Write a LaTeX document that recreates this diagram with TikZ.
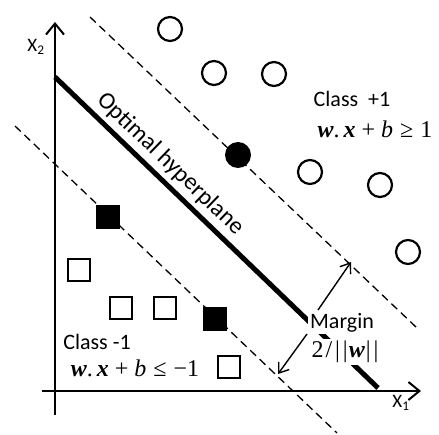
\documentclass[tikz,border=0pt]{standalone}
\usepackage{fontspec}
\setmainfont{Carlito}
\newfontfamily\serifm{Liberation Serif}
\usetikzlibrary{arrows.meta}
\newcommand{\bi}[1]{\textbf{\textit{#1}}}
\newcommand{\wdx}{\bi{w}.\hspace{4pt}\bi{x}\hspace{6pt}+\hspace{6pt}\textit{b}\hspace{7pt}}
\begin{document}
\begin{tikzpicture}[x=1pt,y=-1pt,
  axisline/.style={line width=2pt,-{Straight Barb[length=11pt,width=18pt,line width=2pt]}},
  hyper/.style={line width=5pt},
  marginline/.style={dashed,line width=1.3pt,dash pattern=on 8pt off 5pt},
  arr/.style={line width=1.4pt,-{Straight Barb[length=9pt,width=13pt,line width=1.4pt]}},
  opencirc/.style={circle,draw,line width=2.2pt,minimum size=24pt,inner sep=0pt},
  fillcirc/.style={circle,fill,minimum size=26pt,inner sep=0pt},
  opensq/.style={rectangle,draw,line width=2.2pt,minimum size=22pt,inner sep=0pt},
  fillsq/.style={rectangle,fill,minimum size=24pt,inner sep=0pt},
  lbl/.style={inner sep=0pt,font=\fontsize{22}{26}\selectfont},
  mathlbl/.style={inner sep=0pt,font=\serifm\fontsize{24}{28}\selectfont},
  axlbl/.style={inner sep=0pt,font=\fontsize{19}{22}\selectfont}]
\useasboundingbox (0,0) rectangle (439,435);
% axes
\coordinate (yb) at (55,415);
\coordinate (yt) at (55,22);
\coordinate (xl) at (42,391);
\coordinate (xr) at (421,391);
\draw[axisline] (yb) -- (yt);
\draw[axisline] (xl) -- (xr);
\node[axlbl] (x2) at (36,47) {X\textsubscript{2}};
\node[axlbl] (x1) at (401,403) {X\textsubscript{1}};
% margin lines
\coordinate (u1) at (90,17);
\coordinate (u2) at (417,328);
\coordinate (l1) at (15,126);
\coordinate (l2) at (337,433);
\draw[marginline] (u1) -- (u2);
\draw[marginline] (l1) -- (l2);
% hyperplane
\coordinate (h1) at (55,77);
\coordinate (h2) at (378,388);
\draw[hyper] (h1) -- (h2);
\path (h1) -- (h2) node[pos=0.32,sloped,above=7pt,inner sep=0pt,font=\fontsize{24}{27}\selectfont] (hl) {Optimal hyperplane};
% circles
\node[opencirc] (c1) at (170,29) {};
\node[opencirc] (c2) at (214,73) {};
\node[opencirc] (c3) at (274,74) {};
\node[opencirc] (c4) at (310,172) {};
\node[opencirc] (c5) at (380,185) {};
\node[opencirc] (c6) at (408,252) {};
\node[fillcirc] (c7) at (238,155) {};
% squares
\node[fillsq] (s1) at (108,217) {};
\node[fillsq] (s2) at (215,319) {};
\node[opensq] (s3) at (79,270) {};
\node[opensq] (s4) at (121,308) {};
\node[opensq] (s5) at (165,308) {};
\node[opensq] (s6) at (229,367) {};
% class labels
\node[lbl] (cp) at (352,99) {Class\ \ +1};
\node[mathlbl] (cpm) at (375,129) {\wdx≥\hspace{7pt}1};
\node[lbl] (cm) at (97,342) {Class -1};
\node[mathlbl] (cmm) at (135,368) {\wdx≤\hspace{7pt}−1};
% margin
\node[lbl,fill=white,inner sep=2pt] (mg) at (342,323) {Margin};
\node[mathlbl,fill=white,inner sep=2pt] (mw) at (345,352) {2\hspace{2pt}/\hspace{3pt}|\hspace{3pt}|\hspace{1pt}\bi{w}\hspace{1pt}|\hspace{3pt}|};
\coordinate (ma) at (318,310);
\coordinate (mb) at (307,334);
\coordinate (mu) at (351,262);
\coordinate (ml) at (278,374);
\draw[arr] (ma) -- (mu);
\draw[arr] (mb) -- (ml);
\end{tikzpicture}
\end{document}
